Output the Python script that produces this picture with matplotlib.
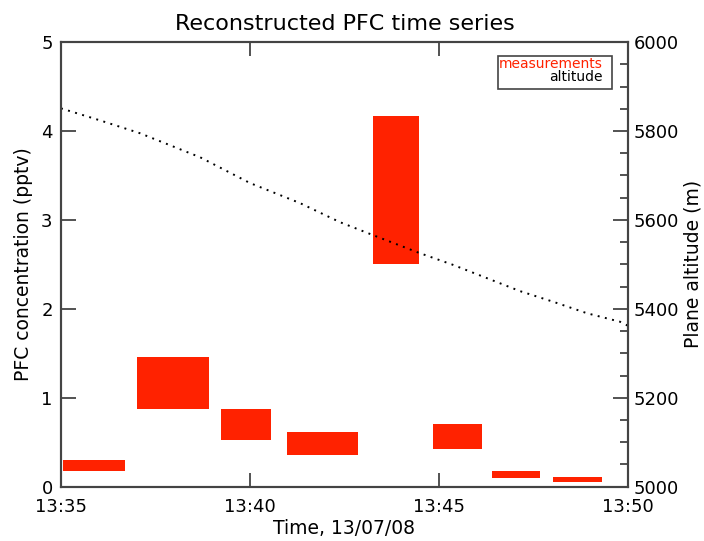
import matplotlib
matplotlib.use("Agg")
import matplotlib.pyplot as plt
from matplotlib.patches import Rectangle

# measurement boxes: minutes after 13:35 (start, end) and PFC range (pptv)
t_start = [0.05, 2.01, 4.23, 5.98, 8.25, 9.84, 11.40, 13.02]
t_end = [1.69, 3.92, 5.56, 7.86, 9.47, 11.14, 12.67, 14.31]
pfc_low = [0.18, 0.87, 0.52, 0.36, 2.50, 0.42, 0.10, 0.05]
pfc_high = [0.30, 1.46, 0.87, 0.61, 4.17, 0.70, 0.18, 0.11]

# plane altitude (m), minutes after 13:35
alt_t = [0.0, 1.03, 2.09, 3.68, 5.0, 6.32, 7.38, 8.25, 9.47, 10.37, 11.27, 12.14, 13.02, 13.92, 14.79, 15.0]
alt_m = [5851, 5824, 5795, 5741, 5683, 5638, 5595, 5566, 5526, 5499, 5469, 5440, 5416, 5390, 5371, 5362]

xticks = [0, 5, 10, 15]
xlabels = ["13:35", "13:40", "13:45", "13:50"]

red = "#ff2200"
axc = "#444444"
fs = 13

fig = plt.figure(figsize=(7.04, 5.41), dpi=100)
ax = fig.add_axes([0.0866, 0.1004, 0.8054, 0.8218])
ax2 = ax.twinx()

heights = [h - l for h, l in zip(pfc_high, pfc_low)]
widths = [e - s for e, s in zip(t_end, t_start)]
ax.bar(t_start, heights, width=widths, bottom=pfc_low, align="edge", color=red, lw=0)

ax2.plot(alt_t, alt_m, color="k", lw=1.4, ls=(0, (1, 2.8)))

ax.set_xlim(0, 15)
ax.set_ylim(0, 5)
ax2.set_ylim(5000, 6000)
ax.set_xticks(xticks)
ax.set_xticklabels(xlabels)
ax.set_yticks([0, 1, 2, 3, 4, 5])
ax2.set_yticks(range(5000, 6001, 200))
ax2.set_yticks(range(5000, 6001, 50), minor=True)

for a in (ax, ax2):
    for s in a.spines.values():
        s.set_color(axc)
        s.set_linewidth(1.5)
ax.tick_params(axis="x", direction="in", length=10, width=1.3, color=axc, top=True,
               labelsize=fs, pad=8)
ax.tick_params(axis="y", direction="in", length=11, width=1.3, color=axc, labelsize=fs, pad=6)
ax2.tick_params(axis="y", which="major", direction="in", length=11, width=1.3, color=axc,
                labelsize=fs, pad=4)
ax2.tick_params(axis="y", which="minor", direction="in", length=6, width=1.3, color=axc)

ax.set_xlabel("Time, 13/07/08", fontsize=13.5, labelpad=2)
ax.set_ylabel("PFC concentration (pptv)", fontsize=13.5, labelpad=6)
ax2.set_ylabel("Plane altitude (m)", fontsize=13.5, labelpad=3)
ax.set_title("Reconstructed PFC time series", fontsize=16, pad=9)

# legend box
ax.add_patch(Rectangle((0.7704, 0.8949), 0.2014, 0.0742, transform=ax.transAxes,
                       fill=False, ec=axc, lw=1.2, zorder=5))
ax.text(0.9555, 0.9505, "measurements", color=red, ha="right", va="center",
        fontsize=10, transform=ax.transAxes, zorder=6)
ax.text(0.9555, 0.9205, "altitude", color="k", ha="right", va="center",
        fontsize=10, transform=ax.transAxes, zorder=6)

fig.savefig("out.png", dpi=100)
